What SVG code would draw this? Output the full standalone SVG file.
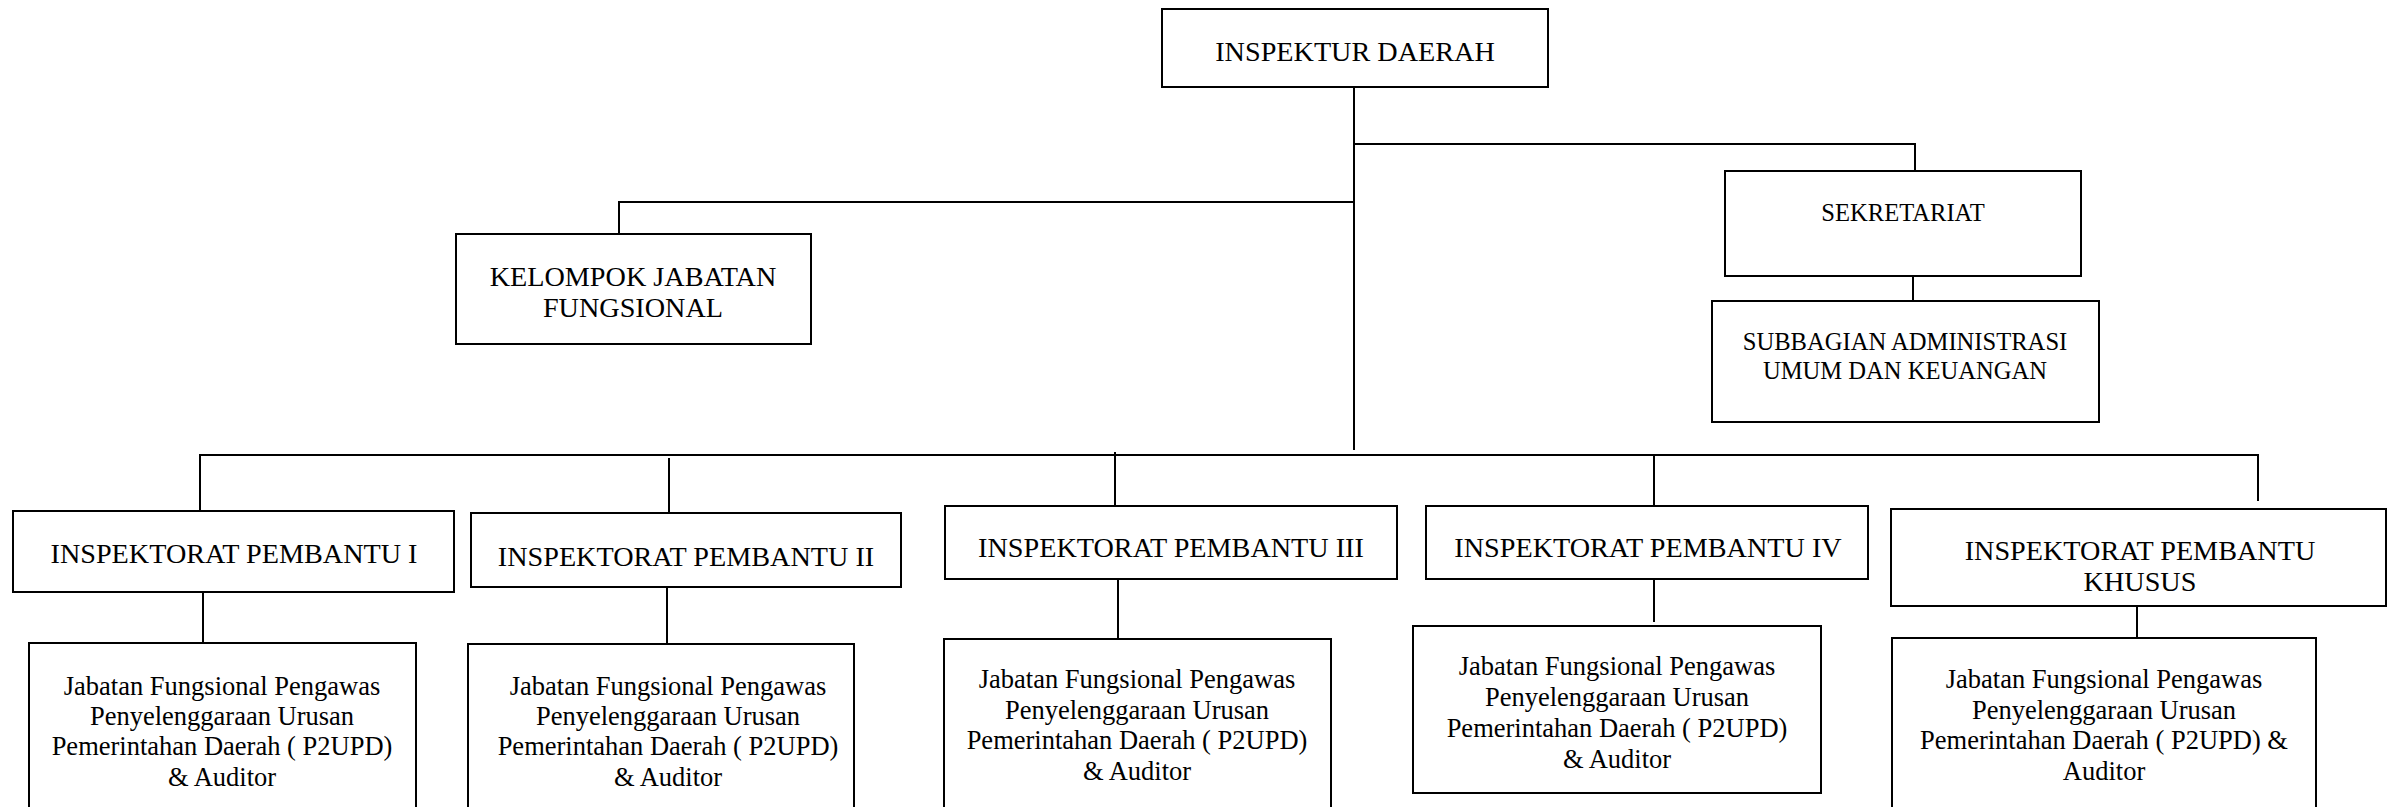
<svg xmlns="http://www.w3.org/2000/svg" width="2387" height="807" viewBox="0 0 2387 807">
  <style>
    .box { fill: #ffffff; stroke: #000000; stroke-width: 2; }
    .link { fill: none; stroke: #000000; stroke-width: 2; }
    text { font-family: "Liberation Serif", "Times New Roman", serif; fill: #000000; text-anchor: middle; }
    .hd { font-size: 28.2px; }
    .sm { font-size: 24.6px; }
    .jf { font-size: 26.5px; }
  </style>
  <rect width="2387" height="807" fill="#ffffff"/>

  <!-- connectors -->
  <g id="connectors">
    <path class="link" d="M1354,87 V450"/>
    <path class="link" d="M1354,144 H1915 V171"/>
    <path class="link" d="M1353,202 H619 V234"/>
    <path class="link" d="M1913,276 V301"/>
    <path class="link" d="M200,511 V455 H2258 V501"/>
    <path class="link" d="M669,458 V513"/>
    <path class="link" d="M1115,452 V506"/>
    <path class="link" d="M1654,455 V506"/>
    <path class="link" d="M203,592 V643"/>
    <path class="link" d="M667,587 V644"/>
    <path class="link" d="M1118,580 V639"/>
    <path class="link" d="M1654,577 V622"/>
    <path class="link" d="M2137,606 V638"/>
  </g>

  <g id="inspektur-daerah">
    <rect class="box" x="1162" y="9" width="386" height="78"/>
    <text class="hd" x="1355" y="61">INSPEKTUR DAERAH</text>
  </g>

  <g id="sekretariat">
    <rect class="box" x="1725" y="171" width="356" height="105"/>
    <text class="sm" x="1903" y="221">SEKRETARIAT</text>
  </g>

  <g id="subbagian-umum-keuangan">
    <rect class="box" x="1712" y="301" width="387" height="121"/>
    <text class="sm" x="1905" y="350">SUBBAGIAN ADMINISTRASI</text>
    <text class="sm" x="1905" y="379">UMUM DAN KEUANGAN</text>
  </g>

  <g id="kelompok-jabatan-fungsional">
    <rect class="box" x="456" y="234" width="355" height="110"/>
    <text class="hd" x="633" y="286">KELOMPOK JABATAN</text>
    <text class="hd" x="633" y="317">FUNGSIONAL</text>
  </g>

  <g id="irban-1">
    <rect class="box" x="13" y="511" width="441" height="81"/>
    <text class="hd" x="234" y="563">INSPEKTORAT PEMBANTU I</text>
  </g>
  <g id="jf-irban-1">
    <rect class="box" x="29" y="643" width="387" height="180"/>
    <text class="jf" x="222" y="695">Jabatan Fungsional Pengawas</text>
    <text class="jf" x="222" y="725">Penyelenggaraan Urusan</text>
    <text class="jf" x="222" y="755">Pemerintahan Daerah ( P2UPD)</text>
    <text class="jf" x="222" y="786">&amp; Auditor</text>
  </g>

  <g id="irban-2">
    <rect class="box" x="471" y="513" width="430" height="74"/>
    <text class="hd" x="686" y="566">INSPEKTORAT PEMBANTU II</text>
  </g>
  <g id="jf-irban-2">
    <rect class="box" x="468" y="644" width="386" height="180"/>
    <text class="jf" x="668" y="695">Jabatan Fungsional Pengawas</text>
    <text class="jf" x="668" y="725">Penyelenggaraan Urusan</text>
    <text class="jf" x="668" y="755">Pemerintahan Daerah ( P2UPD)</text>
    <text class="jf" x="668" y="786">&amp; Auditor</text>
  </g>

  <g id="irban-3">
    <rect class="box" x="945" y="506" width="452" height="73"/>
    <text class="hd" x="1171" y="557">INSPEKTORAT PEMBANTU III</text>
  </g>
  <g id="jf-irban-3">
    <rect class="box" x="944" y="639" width="387" height="180"/>
    <text class="jf" x="1137" y="688">Jabatan Fungsional Pengawas</text>
    <text class="jf" x="1137" y="719">Penyelenggaraan Urusan</text>
    <text class="jf" x="1137" y="749">Pemerintahan Daerah ( P2UPD)</text>
    <text class="jf" x="1137" y="780">&amp; Auditor</text>
  </g>

  <g id="irban-4">
    <rect class="box" x="1426" y="506" width="442" height="73"/>
    <text class="hd" x="1648" y="557">INSPEKTORAT PEMBANTU IV</text>
  </g>
  <g id="jf-irban-4">
    <rect class="box" x="1413" y="626" width="408" height="167"/>
    <text class="jf" x="1617" y="675">Jabatan Fungsional Pengawas</text>
    <text class="jf" x="1617" y="706">Penyelenggaraan Urusan</text>
    <text class="jf" x="1617" y="737">Pemerintahan Daerah ( P2UPD)</text>
    <text class="jf" x="1617" y="768">&amp; Auditor</text>
  </g>

  <g id="irban-khusus">
    <rect class="box" x="1891" y="509" width="495" height="97"/>
    <text class="hd" x="2140" y="560">INSPEKTORAT PEMBANTU</text>
    <text class="hd" x="2140" y="591">KHUSUS</text>
  </g>
  <g id="jf-irban-khusus">
    <rect class="box" x="1892" y="638" width="424" height="180"/>
    <text class="jf" x="2104" y="688">Jabatan Fungsional Pengawas</text>
    <text class="jf" x="2104" y="719">Penyelenggaraan Urusan</text>
    <text class="jf" x="2104" y="749">Pemerintahan Daerah ( P2UPD) &amp;</text>
    <text class="jf" x="2104" y="780">Auditor</text>
  </g>
</svg>
